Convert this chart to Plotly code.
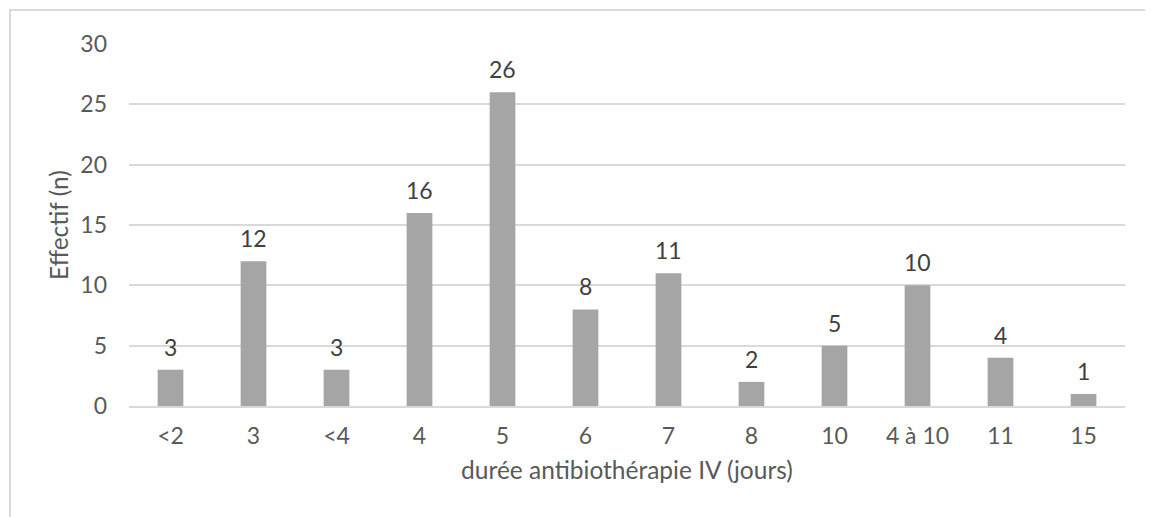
import plotly.graph_objects as go

categories = ["<2", "3", "<4", "4", "5", "6", "7", "8", "10", "4 à 10", "11", "15"]
values = [3, 12, 3, 16, 26, 8, 11, 2, 5, 10, 4, 1]
y_ticks = [0, 5, 10, 15, 20, 25, 30]

FONT = "Lato"
TXT = "#595959"
FS = 23
FT = 24.5

fig = go.Figure()
fig.add_trace(go.Bar(
    x=list(range(len(categories))), y=values,
    marker=dict(color="#a5a5a5", line=dict(width=0)),
    width=0.31,
    hovertext=categories, hoverinfo="text+y",
))

for i, v in enumerate(values):
    fig.add_annotation(x=i, y=v, text=str(v), showarrow=False,
                       yshift=23, font=dict(family=FONT, size=FS, color="#404040"))

# outer chart border
fig.add_shape(type="rect", xref="paper", yref="paper",
              x0=-0.1195, x1=1.1, y0=-0.5, y1=1.094,
              line=dict(color="#d9d9d9", width=2), fillcolor="rgba(0,0,0,0)", layer="below")

fig.update_layout(
    width=1153, height=517,
    margin=dict(l=121, r=36, t=36, b=119),
    paper_bgcolor="white", plot_bgcolor="white",
    showlegend=False,
    font=dict(family=FONT, size=FS, color=TXT),
    xaxis=dict(
        range=[-0.5, len(categories) - 0.5],
        tickvals=list(range(len(categories))), ticktext=categories,
        showgrid=False, showline=True, linecolor="#d9d9d9", linewidth=2,
        zeroline=False, ticks="", tickfont=dict(family=FONT, size=FS, color=TXT),
        ticklabelstandoff=8,
        title=dict(text="durée antibiothérapie IV (jours)", font=dict(family=FONT, size=FT, color=TXT), standoff=14),
    ),
    yaxis=dict(
        range=[0, 30], tickvals=y_ticks,
        showgrid=True, gridcolor="#d9d9d9", gridwidth=2,
        zeroline=False, showline=False, ticks="",
        tickfont=dict(family=FONT, size=FS, color=TXT),
        ticklabelstandoff=21,
        title=dict(text="Effectif (n)", font=dict(family=FONT, size=FT, color=TXT), standoff=4),
    ),
)

fig.write_html("out.html")
